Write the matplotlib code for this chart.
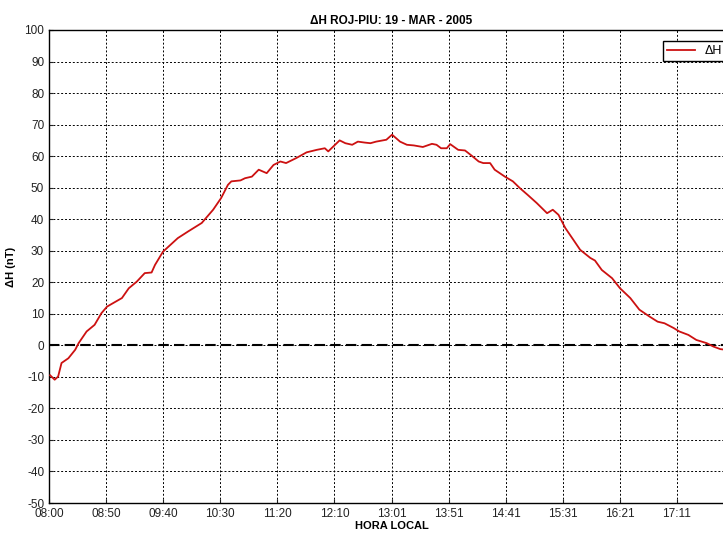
import numpy as np
import matplotlib.pyplot as plt

plt.rcParams['font.family'] = ['Liberation Sans', 'DejaVu Sans']
plt.rcParams['axes.unicode_minus'] = False

# minutes after 08:00 local time, and ΔH in nT
minutes = [1, 5, 8, 11, 17, 23, 26, 33, 40, 46, 51, 64, 70, 77, 84, 90, 93,
           100, 113, 122, 134, 144, 151, 157, 160, 168, 172, 178, 184, 191,
           197, 203, 208, 217, 226, 235, 242, 245, 249, 255, 260, 266, 271,
           277, 282, 287, 296, 301, 308, 314, 320, 328, 336, 340, 344, 349,
           352, 359, 365, 371, 377, 381, 387, 391, 400, 407, 413, 420, 428,
           437, 442, 447, 453, 460, 466, 475, 479, 485, 494, 501, 510, 518,
           527, 534, 540, 548, 553, 561, 568, 577, 583, 589, 598]
delta_h = [-9.5, -10.9, -9.9, -5.6, -4.1, -1.4, 0.7, 4.4, 6.5, 10.2, 12.3,
           15.0, 18.1, 20.2, 22.9, 23.1, 25.5, 29.7, 34.0, 36.1, 38.8, 43.0,
           46.7, 50.9, 52.0, 52.3, 53.0, 53.5, 55.7, 54.6, 57.2, 58.3, 57.8,
           59.4, 61.2, 62.0, 62.5, 61.5, 62.9, 65.0, 64.1, 63.6, 64.6, 64.3,
           64.1, 64.6, 65.2, 66.8, 64.6, 63.6, 63.4, 62.9, 63.9, 63.6, 62.5,
           62.5, 63.8, 62.0, 61.8, 60.1, 58.3, 57.8, 57.8, 55.7, 53.5, 52.0,
           49.9, 47.7, 45.1, 41.9, 43.0, 41.4, 37.2, 33.5, 30.3, 27.7, 26.9,
           23.9, 21.3, 18.1, 15.0, 11.3, 9.1, 7.5, 7.0, 5.5, 4.4, 3.3, 1.7,
           0.7, -0.4, -1.2, -1.6]

# the 18:01 tick falls outside the visible picture, so its label is left blank
tick_labels = ["08:00", "08:50", "09:40", "10:30", "11:20", "12:10", "13:01",
               "13:51", "14:41", "15:31", "16:21", "17:11", ""]
y_ticks = list(range(-50, 101, 10))

fig = plt.figure(figsize=(7.23, 5.36), dpi=100)
# the axes runs a little past the right edge of the picture, as in the original
ax = fig.add_axes([49 / 723, 1 - 503 / 536, 685 / 723, 473 / 536])

x_ticks = np.linspace(0, 601, len(tick_labels))
ax.set_xlim(0, 601)
ax.set_ylim(-50, 100)
ax.set_xticks(x_ticks)
ax.set_xticklabels(tick_labels)
ax.set_yticks(y_ticks)
ax.tick_params(direction='in', labelsize=8.5, colors='#222222', length=3)

ax.grid(True, color='black', linestyle=(0, (2, 2)), linewidth=0.7)
ax.axhline(0, color='black', linestyle=(0, (5, 2.5)), linewidth=1.5, zorder=2)

line, = ax.plot(minutes, delta_h, color='#cc1111', linewidth=1.3, zorder=3)

for s in ax.spines.values():
    s.set_linewidth(1.0)

ax.set_title("ΔH ROJ-PIU: 19 - MAR - 2005", fontsize=8.5, fontweight='bold', pad=4)
ax.set_xlabel("HORA LOCAL", fontsize=8, fontweight='bold', labelpad=1)
ax.set_ylabel("ΔH (nT)", fontsize=8, fontweight='bold', labelpad=6)

leg = fig.legend([line], ["ΔH"], loc='upper left',
                 bbox_to_anchor=(657 / 723, 1 - 35 / 536),
                 fancybox=False, framealpha=1, edgecolor='black',
                 fontsize=9, handlelength=2.2, borderpad=0.3)
leg.get_frame().set_linewidth(1.0)

plt.savefig("out.png", dpi=100)
plt.close()
